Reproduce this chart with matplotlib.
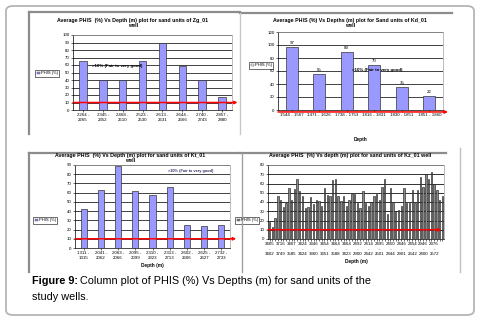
import matplotlib
matplotlib.use("Agg")
import matplotlib.pyplot as plt
from matplotlib.lines import Line2D
from matplotlib.patches import FancyBboxPatch, Rectangle
import numpy as np

plt.rcParams['font.family'] = ['Liberation Sans', 'DejaVu Sans']

# Zg_01 well
zg_depths = ["2264 -\n2265", "2345 -\n2352", "2468 -\n2510", "2523 -\n2530",
             "2613 -\n2631", "2644 -\n2666", "2740 -\n2743", "2857 -\n2880"]
zg_phis = [65, 40, 40, 66, 89, 59, 40, 18]

# Kd_01 well
kd_depths = ["1544 - 1567", "1471 - 1626", "1738 - 1753", "1816 - 1831",
             "1830 - 1851", "1851 - 1860"]
kd_phis = [97, 55, 89, 70, 35, 22]

# Kt_01 well
kt_depths = ["1311 -\n1315", "2041 -\n2062", "2063 -\n2066", "2095 -\n2099",
             "2310 -\n2323", "2313 -\n2713", "2602 -\n2606", "2625 -\n2627",
             "2732 -\n2733"]
kt_phis = [42, 63, 89, 62, 58, 66, 25, 24, 25]

# Kz_01 well
kz_phis = [18, 13, 23, 46, 42, 35, 39, 55, 42, 54, 65, 52, 46, 34, 35, 45,
           38, 42, 41, 36, 55, 48, 46, 64, 65, 47, 41, 46, 36, 42, 49, 49,
           39, 34, 52, 39, 36, 40, 47, 49, 42, 56, 65, 27, 55, 39, 30, 31,
           36, 55, 39, 39, 53, 39, 53, 67, 56, 70, 65, 72, 60, 53, 42, 46]
kz_top = ["3405", "3716", "3407", "3424", "3346", "3454", "3464", "3464",
          "2492", "2414", "2495", "2450", "2446", "2454", "2946", "2976"]
kz_bot = ["3402", "3749", "3585", "3424", "3360", "3351", "3588", "3423",
          "2900", "2442", "2501", "2844", "2901", "2642", "2400", "2572"]

W, H = 480, 320
fig = plt.figure(figsize=(4.8, 3.2), dpi=100)
fig.patch.set_facecolor('white')


def px(x, y):
    return x / W, 1 - y / H


def make_ax(l, t, r, b):
    return fig.add_axes([l / W, 1 - b / H, (r - l) / W, (b - t) / H])


def fline(x0, y0, x1, y1, color='#8c8c8c', lw=1.6):
    a, b = px(x0, y0)
    c, d = px(x1, y1)
    fig.add_artist(Line2D([a, c], [b, d], color=color, lw=lw))


# outer rounded frame
frame = FancyBboxPatch((6 / W, 5 / H), 468 / W, 309 / H,
                       boxstyle="round,pad=0,rounding_size=0.015",
                       transform=fig.transFigure, fill=False,
                       edgecolor='#b5b5b5', lw=1.3)
fig.add_artist(frame)

# panel frame lines
fline(29, 12, 240, 12)
fline(29, 12, 29, 134)
fline(240, 13, 452, 13)
fline(240, 13, 240, 134, color='#c8c8c8', lw=1.0)
fline(29, 153, 240, 153)
fline(29, 153, 29, 272)
fline(240, 153, 446, 153)
fline(242, 153, 242, 272, color='#a0a0a0', lw=1.0)
fline(460, 148, 460, 272, color='#c0c0c0', lw=1.0)


def style(ax, ymax, step, grid_color='#222222'):
    ax.set_ylim(0, ymax)
    ax.set_yticks(np.arange(0, ymax + 1, step))
    ax.yaxis.grid(True, color=grid_color, lw=0.6)
    ax.set_axisbelow(True)
    ax.tick_params(axis='both', labelsize=3.2, length=1.5, width=0.4, pad=1)
    for s in ['top', 'right']:
        ax.spines[s].set_color('#a0a0a0')
        ax.spines[s].set_linewidth(0.5)
    for s in ['left', 'bottom']:
        ax.spines[s].set_linewidth(0.5)


def red_line(ax, y, x_end):
    ax.annotate('', xy=(x_end, y), xytext=(0, y),
                xycoords=('axes fraction', 'data'),
                textcoords=('axes fraction', 'data'),
                arrowprops=dict(arrowstyle='-|>', color='red', lw=1.1,
                                mutation_scale=4, shrinkA=0, shrinkB=0),
                annotation_clip=False)


def legend_box(label, fc, x, y):
    fig.text((x + 5) / W, 1 - y / H, label, fontsize=3.0, va='center',
             ha='left')
    fig.add_artist(Rectangle(((x - 1) / W, 1 - (y + 3.5) / H), 24 / W,
                             7 / H, transform=fig.transFigure, fill=False,
                             ec='black', lw=0.4))
    fig.add_artist(Rectangle(((x + 1) / W, 1 - (y + 1.3) / H), 2.6 / W,
                             2.6 / H, transform=fig.transFigure, fc=fc,
                             ec='#333333', lw=0.3))


blue = '#9999ff'

# --- Zg_01
ax1 = make_ax(73, 35, 232, 110)
x = np.arange(len(zg_phis))
ax1.bar(x, zg_phis, width=0.38, color=blue, edgecolor='#333333', lw=0.5)
ax1.set_xlim(-0.5, len(zg_phis) - 0.5)
ax1.set_xticks(x)
ax1.set_xticklabels(zg_depths)
style(ax1, 100, 10)
red_line(ax1, 10, 1.035)
ax1.text(0.12, 58, '>10% (Fair to very good)', fontsize=3.2,
         fontweight='bold', transform=ax1.get_yaxis_transform())
fig.text(133 / W, 1 - 23 / H,
         'Average PHIS  (%) Vs Depth (m) plot for sand units of Zg_01\nwell',
         fontsize=3.8, fontweight='bold', ha='center', va='center',
         linespacing=1.1)
legend_box('PHIS (%)', blue, 36, 73)

# --- Kd_01
ax2 = make_ax(278, 32, 443, 110)
x = np.arange(len(kd_phis))
bars = ax2.bar(x, kd_phis, width=0.42, color=blue, edgecolor='#333333', lw=0.5)
for b, v in zip(bars, kd_phis):
    ax2.text(b.get_x() + b.get_width() / 2, v + 3, str(v), ha='center',
             va='bottom', fontsize=3.2)
ax2.set_xlim(-0.5, len(kd_phis) - 0.5)
ax2.set_xticks(x)
ax2.set_xticklabels(kd_depths)
style(ax2, 120, 20)
ax2.annotate('', xy=(1.03, -3), xytext=(0, -3),
             xycoords=('axes fraction', 'data'),
             textcoords=('axes fraction', 'data'),
             arrowprops=dict(arrowstyle='-|>', color='red', lw=1.1,
                             mutation_scale=4, shrinkA=0, shrinkB=0),
             annotation_clip=False)
ax2.text(0.45, 60, '>10% (Fair to very good)', fontsize=3.2,
         fontweight='bold', transform=ax2.get_yaxis_transform())
ax2.set_xlabel('Depth', fontsize=3.4, fontweight='bold', labelpad=14)
fig.text(350 / W, 1 - 23 / H,
         'Average PHIS (%) Vs Depths (m) plot for Sand units of Kd_01\nwell',
         fontsize=3.8, fontweight='bold', ha='center', va='center',
         linespacing=1.1)
legend_box('PHIS (%)', 'white', 250, 65)

# --- Kt_01
ax3 = make_ax(75, 165, 230, 248)
x = np.arange(len(kt_phis))
ax3.bar(x, kt_phis, width=0.35, color=blue, edgecolor='#333333', lw=0.5)
ax3.set_xlim(-0.5, len(kt_phis) - 0.5)
ax3.set_xticks(x)
ax3.set_xticklabels(kt_depths)
style(ax3, 90, 10)
red_line(ax3, 10, 1.04)
ax3.text(0.6, 82, '>10% (Fair to very good)', fontsize=2.8,
         fontweight='bold', color='#333366',
         transform=ax3.get_yaxis_transform())
ax3.set_xlabel('Depth (m)', fontsize=3.4, fontweight='bold', labelpad=2)
fig.text(130 / W, 1 - 158 / H,
         'Average PHIS  (%) Vs Depth (m) plot for sand units of Kt_01\nwell',
         fontsize=3.8, fontweight='bold', ha='center', va='center',
         linespacing=1.1)
legend_box('PHIS (%)', blue, 34, 220)

# --- Kz_01
ax4 = make_ax(268, 165, 444, 239)
x = np.arange(len(kz_phis))
ax4.bar(x, kz_phis, width=0.5, color='#8a8a8a', edgecolor='#111111', lw=0.4)
ax4.set_xlim(-0.6, len(kz_phis) - 0.4)
ax4.set_xticks(x, minor=True)
ax4.set_xticks(x[::4])
ax4.set_xticklabels([t + '\n-\n' + b for t, b in zip(kz_top, kz_bot)],
                    linespacing=1.3)
style(ax4, 80, 10, grid_color='#111111')
ax4.tick_params(axis='x', which='minor', length=1.5, width=0.4)
red_line(ax4, 10, 0.985)
ax4.set_xlabel('Depth (m)', fontsize=3.4, fontweight='bold', labelpad=2)
fig.text(350 / W, 1 - 155 / H,
         'Average PHIS  (%) Vs depth (m) plot for sand units of Kz_01 well',
         fontsize=3.8, fontweight='bold', ha='center', va='center')
legend_box('PHIS (%)', '#8a8a8a', 236, 220)

# caption
t1 = fig.text(32 / W, 1 - 281 / H, 'Figure 9:', fontsize=7.8,
              fontweight='bold', va='center', ha='left')
fig.canvas.draw()
bb = t1.get_window_extent()
fig.text(bb.x1 / W + 2 / W, 1 - 281 / H,
         'Column plot of PHIS (%) Vs Depths (m) for sand units of the',
         fontsize=7.8, va='center', ha='left')
fig.text(32 / W, 1 - 297 / H, 'study wells.', fontsize=7.8, va='center',
         ha='left')

fig.savefig('out.png', dpi=100)
